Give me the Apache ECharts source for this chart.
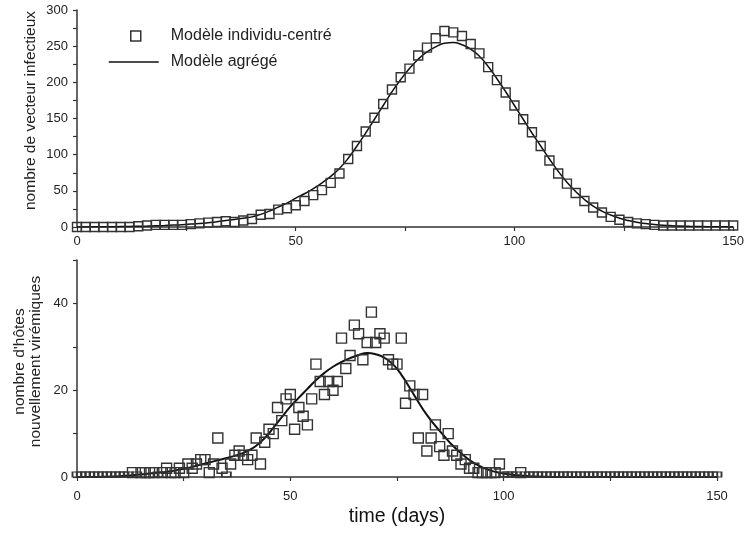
<!DOCTYPE html>
<html>
<head>
<meta charset="utf-8">
<script src="https://cdn.jsdelivr.net/npm/echarts@6/dist/echarts.min.js"></script>
<style>
html,body{margin:0;padding:0;background:#fff;}
#chart{width:747px;height:535px;}
</style>
</head>
<body>
<div id="chart"></div>
<script>
// ---------- DATA ----------
// Top panel: days sampled every 2 days (0..150)
const topDays = Array.from({length: 76}, (_, i) => i * 2);
// Individual-based model (squares), number of infectious vectors
const topIndividual = [
  0, 0, 0, 0, 0, 0, 0, 1, 2, 3,
  3, 3, 3, 4, 5, 6, 7, 8, 7, 9,
  11, 17, 18, 24, 26, 30, 36, 44, 51, 61,
  74, 94, 112, 132, 151, 170, 190, 207, 219, 237,
  248, 261, 271, 269, 264, 253, 240, 221, 203, 186,
  168, 149, 131, 112, 92, 74, 60, 47, 36, 27,
  20, 14, 10, 7, 5, 4, 3, 2, 2, 2,
  2, 2, 2, 2, 2, 2
];
// Aggregated model (line)
const topAggregated = [
  0, 0.1, 0.2, 0.3, 0.4, 0.6, 0.8, 1.0, 1.3, 1.7,
  2.1, 2.6, 3.2, 4.0, 4.9, 6.0, 7.3, 8.9, 10.5, 12.2,
  14, 17.5, 22, 27.5, 33, 40, 46, 53, 61, 70,
  81, 95, 112, 130, 149, 168, 187, 204, 219, 232,
  242, 249, 254, 255, 252, 246, 236, 222, 205, 187,
  168, 149, 130, 112, 94, 77, 62, 49, 38, 29,
  22, 16.5, 12.2, 9.0, 6.6, 4.8, 3.5, 2.5, 1.8, 1.3,
  0.9, 0.65, 0.46, 0.33, 0.23, 0.16
];

// Bottom panel: daily individual-based counts (0..150)
const bottomDays = Array.from({length: 151}, (_, i) => i);
const bottomIndividual = [
  0, 0, 0, 0, 0, 0, 0, 0, 0, 0,
  0, 0, 0, 1, 0, 1, 1, 1, 1, 0,
  1, 2, 1, 1, 2, 1, 3, 2, 3, 4,
  4, 1, 3, 9, 2, 0, 3, 5, 6, 5,
  4, 5, 9, 3, 8, 11, 10, 16, 13, 18,
  19, 11, 16, 14, 12, 18, 26, 22, 19, 22,
  20, 22, 32, 25, 28, 35, 33, 27, 31, 38,
  31, 33, 32, 27, 26, 26, 32, 17, 21, 19,
  9, 19, 6, 9, 12, 7, 5, 10, 6, 5,
  3, 4, 2, 2, 1, 1, 1, 1, 1, 3,
  0, 0, 0, 0, 1, 0, 0, 0, 0, 0,
  0, 0, 0, 0, 0, 0, 0, 0, 0, 0,
  0, 0, 0, 0, 0, 0, 0, 0, 0, 0,
  0, 0, 0, 0, 0, 0, 0, 0, 0, 0,
  0, 0, 0, 0, 0, 0, 0, 0, 0, 0,
  0
];
// Bottom aggregated model sampled every 2 days (0..150)
const bottomLineDays = Array.from({length: 76}, (_, i) => i * 2);
const bottomAggregated = [
  0, 0, 0, 0.05, 0.1, 0.2, 0.35, 0.5, 0.7, 0.9,
  1.1, 1.3, 1.7, 2.1, 2.6, 3.1, 3.6, 4.1, 4.6, 5.2,
  6.0, 7.2, 9.0, 11.3, 13.8, 16.2, 18.3, 20.3, 22.3, 24.0,
  25.4, 26.5, 27.4, 28.1, 28.6, 28.3, 27.5, 26.0, 23.6, 20.5,
  17.3, 14.3, 11.8, 9.5, 7.3, 5.5, 3.9, 2.7, 1.8, 1.2,
  0.8, 0.5, 0.35, 0.2, 0.1, 0.05, 0, 0, 0, 0,
  0, 0, 0, 0, 0, 0, 0, 0, 0, 0,
  0, 0, 0, 0, 0, 0
];

const nameInd = 'Modèle individu-centré';
const nameAgg = 'Modèle agrégé';
const topYLabels = [0, 50, 100, 150, 200, 250, 300];
const bottomYLabels = [0, 20, 40];
const xLabels = [0, 50, 100, 150];

// ---------- STYLE ----------
const AX = '#333';
const TXT = '#222';
const FONT = 'Liberation Sans, Arial, sans-serif';

function axisCommon(labels, margin, extra) {
  return Object.assign({
    type: 'value',
    nameMoveOverlap: false,
    axisLine: {show: true, onZero: false, lineStyle: {color: AX, width: 1.5}},
    axisTick: {show: true, length: 4, lineStyle: {color: AX, width: 1.2}},
    splitLine: {show: false},
    axisLabel: {
      color: TXT, fontSize: 13, fontFamily: FONT, margin: margin,
      formatter: v => labels.indexOf(v) >= 0 ? String(v) : ''
    }
  }, extra);
}

const chart = echarts.init(document.getElementById('chart'), null, {renderer: 'canvas'});

const bottomScatterData = bottomDays.map((d, i) => {
  const v = bottomIndividual[i];
  if (v === 0) {
    return {value: [d, v], symbolSize: [9, 5], symbolOffset: [0, -2.5]};
  }
  return [d, v];
});

chart.setOption({
  backgroundColor: '#fff',
  animation: false,
  textStyle: {fontFamily: FONT},
  grid: [
    {left: 77, top: 10, width: 660, height: 217, containLabel: false},
    {left: 77, top: 260, width: 640, height: 217, containLabel: false}
  ],
  legend: [
    {
      data: [nameInd], orient: 'vertical', left: 130, top: 27, padding: 0,
      itemWidth: 10, itemHeight: 10, icon: 'rect',
      itemStyle: {color: 'rgba(0,0,0,0)', borderColor: '#333', borderWidth: 1.5},
      textStyle: {color: TXT, fontSize: 16, lineHeight: 18, fontFamily: FONT, padding: [0, 0, 0, 25]},
      selectedMode: false
    },
    {
      data: [nameAgg], orient: 'vertical', left: 108, top: 53, padding: 0,
      itemWidth: 50, itemHeight: 14,
      lineStyle: {color: '#111', width: 1.5},
      itemStyle: {color: 'rgba(0,0,0,0)', borderColor: 'rgba(0,0,0,0)', borderWidth: 0},
      textStyle: {color: TXT, fontSize: 16, lineHeight: 18, fontFamily: FONT, padding: [0, 0, 0, 7]},
      selectedMode: false
    }
  ],
  xAxis: [
    axisCommon(xLabels, 8, {gridIndex: 0, min: 0, max: 150, interval: 25}),
    axisCommon(xLabels, 13, {gridIndex: 1, min: 0, max: 150, interval: 25,
      name: 'time (days)', nameLocation: 'middle', nameGap: 30,
      nameTextStyle: {color: '#111', fontSize: 19.5, fontFamily: FONT}})
  ],
  yAxis: [
    axisCommon(topYLabels, 9, {gridIndex: 0, min: 0, max: 300, interval: 25,
      name: 'nombre de vecteur infectieux', nameLocation: 'middle', nameGap: 38,
      nameTextStyle: {color: TXT, fontSize: 15.5, fontFamily: FONT, padding: [0, 0, 0, 16]}}),
    axisCommon(bottomYLabels, 9, {gridIndex: 1, min: 0, max: 50, interval: 10,
      name: "nombre d'hôtes\nnouvellement virémiques", nameLocation: 'middle', nameGap: 33,
      nameTextStyle: {color: TXT, fontSize: 15.5, fontFamily: FONT, lineHeight: 16, padding: [0, 0, 0, 14]}})
  ],
  series: [
    {
      name: nameAgg, type: 'line', xAxisIndex: 0, yAxisIndex: 0,
      data: topDays.map((d, i) => [d, topAggregated[i]]),
      symbol: 'none', smooth: true, lineStyle: {color: '#111', width: 1.5},
      itemStyle: {color: '#111'}, z: 2
    },
    {
      name: nameInd, type: 'scatter', xAxisIndex: 0, yAxisIndex: 0,
      data: topDays.map((d, i) => [d, topIndividual[i]]),
      symbol: 'rect', symbolSize: 9,
      itemStyle: {color: 'rgba(0,0,0,0)', borderColor: '#333', borderWidth: 1.4, opacity: 1}, z: 3
    },
    {
      name: nameAgg, type: 'line', xAxisIndex: 1, yAxisIndex: 1,
      data: bottomLineDays.map((d, i) => [d, bottomAggregated[i]]),
      symbol: 'none', smooth: true, lineStyle: {color: '#111', width: 2},
      itemStyle: {color: '#111'}, z: 2
    },
    {
      name: nameInd, type: 'scatter', xAxisIndex: 1, yAxisIndex: 1,
      data: bottomScatterData,
      symbol: 'rect', symbolSize: 10,
      itemStyle: {color: 'rgba(0,0,0,0)', borderColor: '#333', borderWidth: 1.4, opacity: 1}, z: 3
    }
  ]
});
</script>
</body>
</html>
